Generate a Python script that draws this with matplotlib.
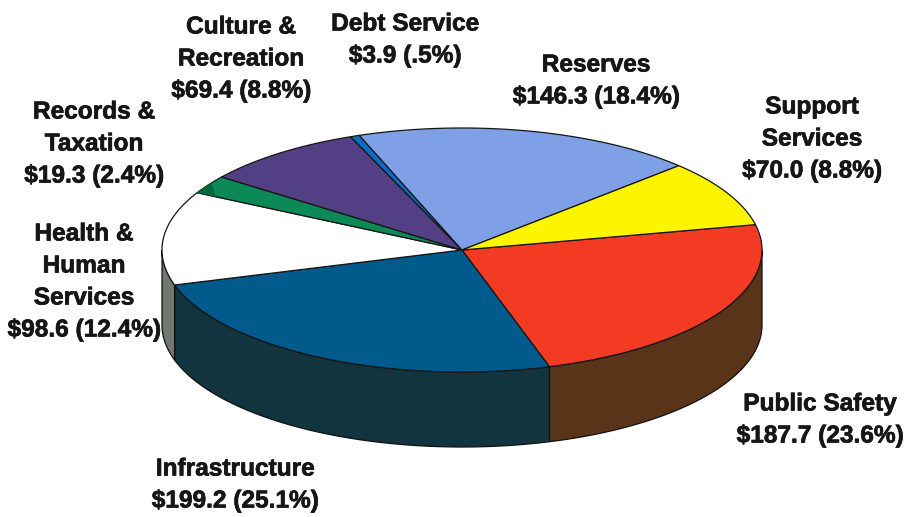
import numpy as np
import matplotlib
matplotlib.use("Agg")
import matplotlib.pyplot as plt
import matplotlib.patheffects as pe
from matplotlib.patches import Polygon

# $ millions, clockwise from the Public Safety / Support Services edge
categories = ["Public Safety", "Infrastructure", "Health & Human Services",
              "Records & Taxation", "Culture & Recreation", "Debt Service",
              "Reserves", "Support Services"]
amounts = [187.7, 199.2, 98.6, 19.3, 69.4, 3.9, 146.3, 70.0]
top_colors = ["#f23b22", "#005a8c", "#ffffff", "#0b8a58", "#533f83",
              "#0d6cc4", "#7f9fe6", "#fdf500"]
side_colors = ["#5a3418", "#12343f", "#70786f", "#064a30", "#2a2045",
               "#06386a", "#404f74", "#7f7b00"]
labels = ["Public Safety\n$187.7 (23.6%)", "Infrastructure\n$199.2 (25.1%)",
          "Health &\nHuman\nServices\n$98.6 (12.4%)",
          "Records &\nTaxation\n$19.3 (2.4%)",
          "Culture &\nRecreation\n$69.4 (8.8%)",
          "Debt Service\n$3.9 (.5%)", "Reserves\n$146.3 (18.4%)",
          "Support\nServices\n$70.0 (8.8%)"]
label_x = [820, 235, 84, 94, 241, 405, 596, 812]
label_y = [420, 485, 282, 144, 59, 40, 81, 139]

CX, CY = 462, 250
RX, RY = 300, 122
DEPTH = 75
START = 12.0


def arc(t0, t1, dy=0):
    t = np.radians(np.linspace(t0, t1, 120))
    return np.column_stack([CX + RX * np.cos(t), CY + dy - RY * np.sin(t)])


fig = plt.figure(figsize=(9.05, 5.17), dpi=100)
ax = fig.add_axes([0, 0, 1, 1])
ax.set_xlim(0, 905)
ax.set_ylim(517, 0)
ax.axis("off")

sweeps = np.array(amounts) / sum(amounts) * 360
edges = START - np.concatenate([[0], np.cumsum(sweeps)])

# outer wall first, only the front half of the rim shows
for i in range(len(amounts)):
    t0, t1 = edges[i], edges[i + 1]
    for shift in (0, 360):
        lo, hi = max(t1 + shift, -180), min(t0 + shift, 0)
        if lo >= hi:
            continue
        outline = np.vstack([arc(hi, lo), arc(lo, hi, DEPTH)])
        ax.add_patch(Polygon(outline, closed=True, fc=side_colors[i],
                             ec="#111111", lw=0.9, zorder=1))

for i in range(len(amounts)):
    pts = np.vstack([[[CX, CY]], arc(edges[i], edges[i + 1])])
    ax.add_patch(Polygon(pts, closed=True, fc=top_colors[i], ec="#161616",
                         lw=0.9, joinstyle="round", zorder=2))

# Records slice has a darker patch where it meets the rim
rec = categories.index("Records & Taxation")
rim = arc(edges[rec], edges[rec + 1])
inner = CX + 0.93 * (rim[0, 0] - CX), CY + 0.93 * (rim[0, 1] - CY)
ax.add_patch(Polygon(np.vstack([rim[:75], [inner]]), closed=True,
                     fc="#046a3e", ec="none", zorder=2.5))

for text, x, y in zip(labels, label_x, label_y):
    ax.text(x, y, text, ha="center", va="center", fontsize=17.6,
            fontweight="bold", family="Liberation Sans", color="#161616",
            linespacing=1.5, zorder=3,
            path_effects=[pe.withStroke(linewidth=0.5, foreground="#161616")])

fig.savefig("out.png", dpi=100)
